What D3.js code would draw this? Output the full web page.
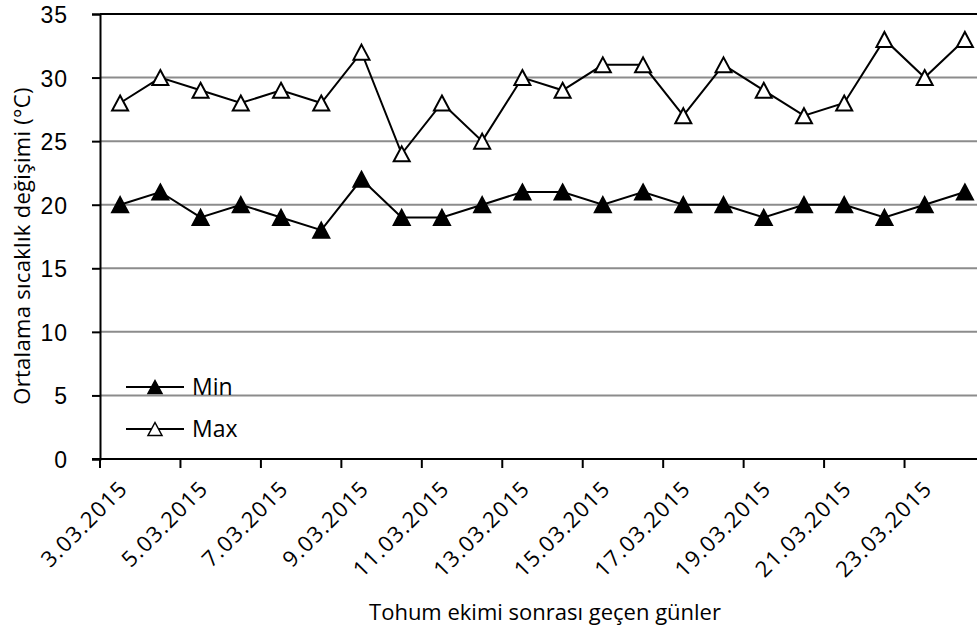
<!DOCTYPE html>
<html>
<head>
<meta charset="utf-8">
<script src="https://cdn.jsdelivr.net/npm/d3@7"></script>
<style>
  html, body { margin: 0; padding: 0; background: #fff; }
  svg { display: block; }
  text { font-family: "Open Sans", "Noto Sans", sans-serif; fill: #000; }
</style>
</head>
<body>
<svg id="chart" width="977" height="632"></svg>
<script>
const dates = ["3.03.2015","4.03.2015","5.03.2015","6.03.2015","7.03.2015","8.03.2015","9.03.2015","10.03.2015","11.03.2015","12.03.2015","13.03.2015","14.03.2015","15.03.2015","16.03.2015","17.03.2015","18.03.2015","19.03.2015","20.03.2015","21.03.2015","22.03.2015","23.03.2015","24.03.2015"];
const minValues = [20,21,19,20,19,18,22,19,19,20,21,21,20,21,20,20,19,20,20,19,20,21];
const maxValues = [28,30,29,28,29,28,32,24,28,25,30,29,31,31,27,31,29,27,28,33,30,33];
const yTicks = [0,5,10,15,20,25,30,35];
const seriesNames = ["Min","Max"];
const yTitle = "Ortalama sıcaklık değişimi (°C)";
const xTitle = "Tohum ekimi sonrası geçen günler";

(function () {
const svg = d3.select("#chart");
const pL = 100, pR = 985, pT = 14, pB = 459;

const x = d3.scaleBand().domain(dates).range([pL, pR]).padding(0);
const y = d3.scaleLinear().domain([0, 35]).range([pB, pT]);

// gridlines
svg.append("g").selectAll("line").data(yTicks.filter(d => d > 0 && d < 35)).join("line")
  .attr("x1", pL).attr("x2", pR)
  .attr("y1", d => y(d)).attr("y2", d => y(d))
  .attr("stroke", "#8c8c8c").attr("stroke-width", 2);

// top border
svg.append("line").attr("x1", pL).attr("x2", pR).attr("y1", y(35)).attr("y2", y(35))
  .attr("stroke", "#000").attr("stroke-width", 2);

// y axis
const yAxis = svg.append("g").attr("transform", `translate(${pL},0)`)
  .call(d3.axisLeft(y).tickValues(yTicks).tickSize(8).tickPadding(24).tickFormat(d3.format("d")));
yAxis.select(".domain").attr("stroke", "#000").attr("stroke-width", 2);
yAxis.selectAll(".tick line").attr("stroke", "#000").attr("stroke-width", 2);
yAxis.selectAll(".tick text")
  .style("font-family", "'Liberation Sans', 'Open Sans', sans-serif")
  .style("font-size", "23px").style("letter-spacing", "1px").attr("dy", "0.37em");

// x axis: ticks every 2 categories at band boundaries
const tickIdx = d3.range(0, dates.length, 2);
const xAxisG = svg.append("g");
xAxisG.append("line").attr("x1", pL - 8).attr("x2", pR).attr("y1", pB).attr("y2", pB)
  .attr("stroke", "#000").attr("stroke-width", 2);
xAxisG.selectAll("line.tk").data(tickIdx).join("line").attr("class", "tk")
  .attr("x1", i => x(dates[i])).attr("x2", i => x(dates[i]))
  .attr("y1", pB).attr("y2", pB + 9)
  .attr("stroke", "#000").attr("stroke-width", 2);
xAxisG.selectAll("text").data(tickIdx).join("text")
  .attr("transform", i => `translate(${x(dates[i]) + x.bandwidth() / 2 - 2},${pB + 20}) rotate(-45)`)
  .attr("text-anchor", "end")
  .attr("dy", "0.7em")
  .style("font-size", "22px")
  .style("letter-spacing", "1.3px")
  .text(i => dates[i]);

// lines & markers
const tri = "M0,-7.5L8,7.5L-8,7.5Z";
const triSmall = "M0,-6.5L7,6.5L-7,6.5Z";
const cx = d => x(d) + x.bandwidth() / 2;
const lineGen = vals => d3.line().x((v, i) => cx(dates[i])).y(v => y(v))(vals);

[[maxValues, "#fff"], [minValues, "#000"]].forEach(([vals, fill]) => {
  svg.append("path").attr("d", lineGen(vals)).attr("fill", "none").attr("stroke", "#000").attr("stroke-width", 2);
  svg.append("g").selectAll("path").data(vals).join("path")
    .attr("d", tri)
    .attr("transform", (v, i) => `translate(${cx(dates[i])},${y(v)})`)
    .attr("fill", fill).attr("stroke", "#000").attr("stroke-width", 2);
});

// legend
const legend = svg.append("g");
[[seriesNames[0], "#000", 387], [seriesNames[1], "#fff", 429]].forEach(([name, fill, ly]) => {
  legend.append("line").attr("x1", 126).attr("x2", 184).attr("y1", ly).attr("y2", ly)
    .attr("stroke", "#000").attr("stroke-width", 2);
  legend.append("path").attr("d", triSmall).attr("transform", `translate(155,${ly})`)
    .attr("fill", fill).attr("stroke", "#000").attr("stroke-width", 1.5);
  legend.append("text").attr("x", 192).attr("y", ly).attr("dy", "0.36em")
    .style("font-size", "23px").text(name);
});

// axis titles
svg.append("text").attr("transform", `translate(30,246) rotate(-90)`)
  .attr("text-anchor", "middle").style("font-size", "22px").style("letter-spacing", "0.3px").text(yTitle);
svg.append("text").attr("x", 545).attr("y", 620)
  .attr("text-anchor", "middle").style("font-size", "22px").text(xTitle);
})();
</script>
</body>
</html>
